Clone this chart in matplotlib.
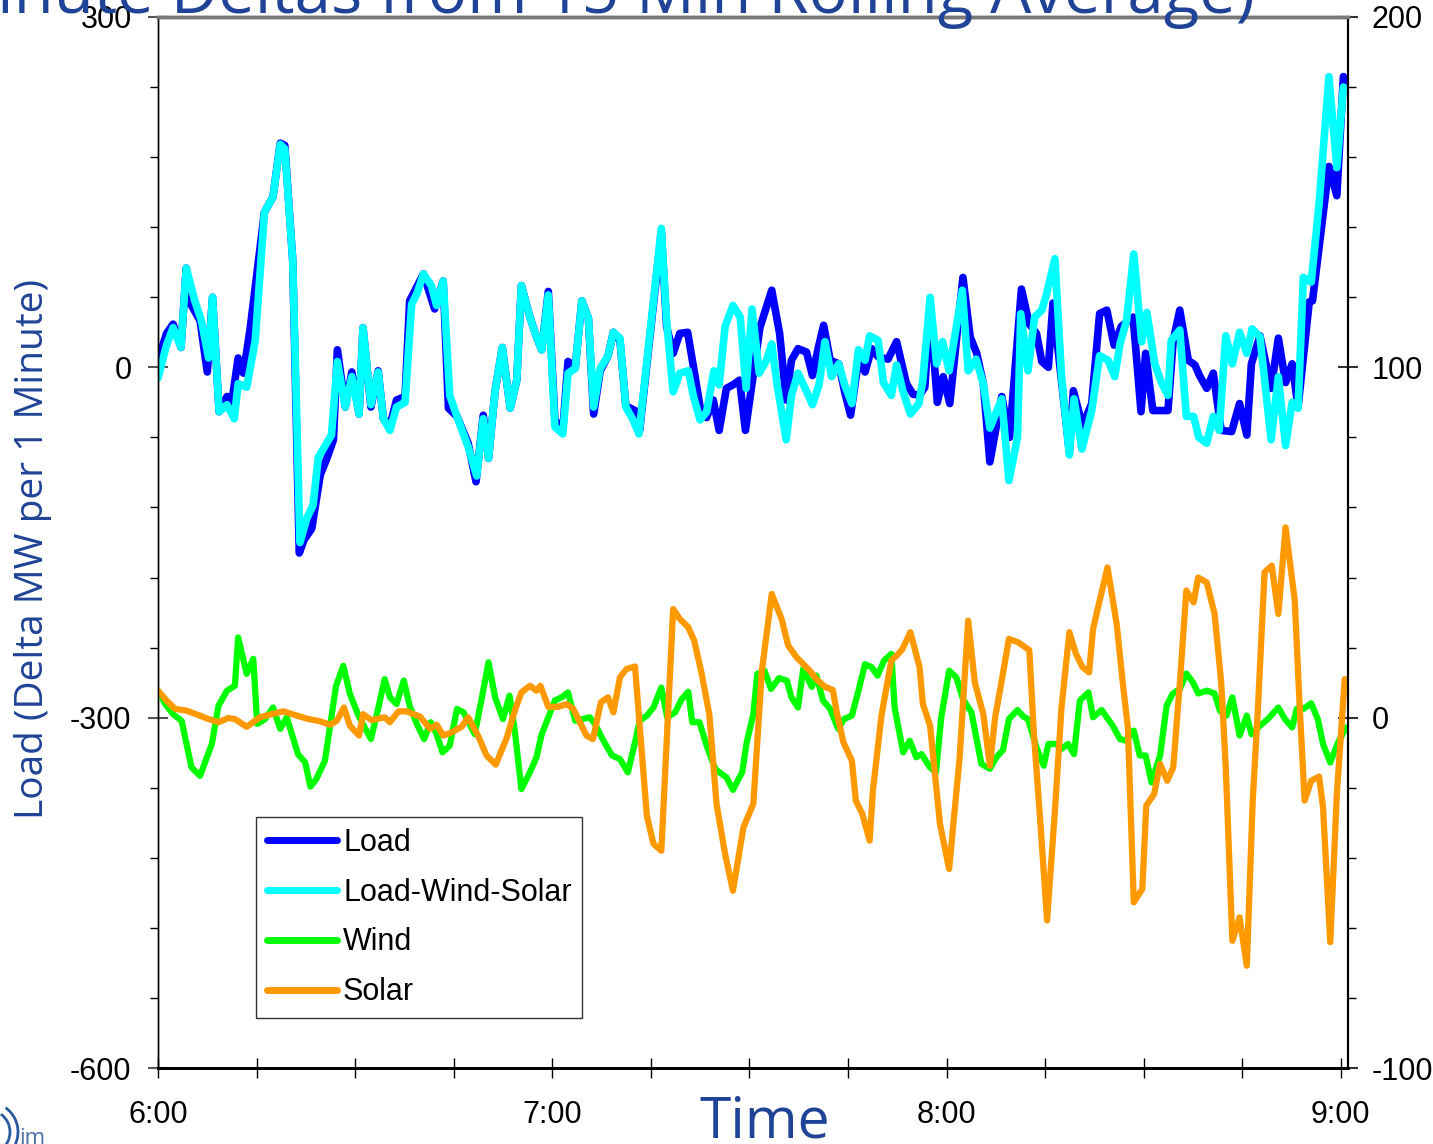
import matplotlib
matplotlib.use("Agg")
import matplotlib.pyplot as plt
from matplotlib.ticker import MultipleLocator, FuncFormatter
from matplotlib.patches import Arc

plt.rcParams['axes.unicode_minus'] = False
plt.rcParams['font.family'] = ['Liberation Sans', 'DejaVu Sans']

# minutes after 6:00 and values (left axis: MW, right axis: MW)
load_t = [0.0, 1.3, 2.3, 3.5, 4.3, 4.9, 6.4, 7.5, 8.3, 9.3, 10.5, 11.2, 12.2, 13.0, 14.0, 16.2, 17.5, 18.6,
          19.3, 20.5, 21.5, 22.2, 23.4, 24.7, 25.7, 26.7, 27.3, 28.5, 29.5, 30.6, 31.2, 32.4, 33.5, 34.3,
          35.3, 36.3, 37.6, 38.3, 40.4, 42.1, 43.4, 44.2, 45.5, 47.2, 48.4, 49.5, 50.3, 51.3, 52.4, 53.6,
          54.6, 55.3, 56.6, 57.6, 58.4, 59.4, 60.4, 61.6, 62.4, 63.5, 64.5, 65.5, 66.3, 67.3, 68.5, 69.3,
          70.3, 71.2, 72.6, 73.3, 76.6, 77.4, 78.4, 79.4, 80.6, 81.5, 82.5, 83.5, 84.5, 85.4, 86.5, 87.5,
          88.5, 89.4, 91.6, 93.4, 94.6, 95.6, 96.4, 97.4, 98.7, 99.6, 100.5, 101.3, 102.3, 103.6, 104.5,
          105.4, 106.6, 107.6, 108.6, 109.6, 111.1, 112.4, 113.9, 114.9, 115.9, 116.7, 117.5, 118.6, 119.5,
          120.5, 122.5, 123.6, 124.6, 125.6, 126.6, 128.4, 129.6, 131.4, 132.6, 133.7, 134.5, 135.5, 136.2,
          138.7, 139.3, 140.7, 142.1, 143.3, 144.4, 145.5, 146.6, 148.4, 149.6, 150.3, 151.4, 153.7, 154.5,
          155.5, 156.8, 157.8, 158.5, 159.6, 160.6, 161.8, 163.4, 164.6, 165.7, 166.4, 167.7, 169.4, 170.5,
          171.6, 172.6, 173.5, 175.2, 175.7, 178.2, 179.4, 180.4]
load_v = [6, 29, 37, 17, 85, 55, 40, -4, 60, -38, -25, -31, 8, -5, 32, 133, 146, 192,
          190, 92, -159, -148, -138, -92, -78, -62, 15, -34, -4, -40, 34, -34, -3, -44,
          -50, -28, -25, 57, 80, 50, 74, -35, -42, -65, -98, -41, -78, -20, 17, -35,
          -11, 70, 43, 26, 15, 65, -45, -54, 5, 0, 57, 42, -40, -3, 10, 30,
          23, -33, -37, -54, 116, 35, 12, 29, 30, 0, -34, -43, -28, -54, -18, -15,
          -11, -54, 34, 66, 29, -28, 6, 16, 13, -7, 17, 36, 6, 3, -21,
          -41, 6, -4, 16, 9, 7, 22, -14, -23, -24, -17, 52, -30, -8,
          -31, 77, 26, 12, -14, -81, -25, -60, 67, 37, 29, 5, 0, 55,
          -73, -20, -50, -31, 46, 49, 19, 35, 43, -38, 12, -37, -37, 23,
          49, 6, 2, -7, -18, -5, -54, -55, -31, -58, 3, 27, -18, 25,
          -13, 3, -34, 56, 57, 172, 147, 249]

lws_t = [0.0, 1.3, 2.3, 3.5, 4.3, 5.6, 6.6, 7.7, 8.3, 9.3, 10.5, 11.6, 12.2, 13.5, 14.8, 16.2, 17.5, 18.6,
         19.3, 20.5, 21.6, 22.6, 23.6, 24.4, 26.4, 27.3, 28.5, 29.5, 30.6, 31.2, 32.4, 33.5, 34.3, 35.3,
         36.3, 37.6, 38.6, 39.4, 40.4, 41.6, 42.4, 43.4, 44.4, 45.5, 47.2, 48.5, 49.5, 50.3, 51.3, 52.4,
         53.6, 54.6, 55.3, 56.6, 57.6, 58.4, 59.4, 60.4, 61.6, 62.4, 63.5, 64.5, 65.5, 66.3, 67.3, 68.5,
         69.3, 70.3, 71.2, 72.3, 73.2, 76.6, 77.4, 78.4, 79.4, 80.7, 81.5, 82.5, 83.5, 84.6, 85.4, 86.3,
         87.5, 88.6, 89.5, 90.4, 91.5, 92.6, 93.4, 94.2, 95.6, 96.4, 97.4, 98.4, 99.6, 100.6, 101.5, 102.5,
         103.6, 104.5, 105.6, 106.6, 107.6, 108.3, 109.6, 110.4, 111.6, 112.4, 113.4, 114.5, 115.8, 116.4,
         117.5, 118.5, 119.4, 120.4, 122.4, 123.3, 124.5, 125.6, 126.6, 128.4, 129.5, 130.8, 131.3, 132.4,
         133.4, 134.5, 135.2, 136.5, 137.5, 138.7, 139.4, 140.6, 142.1, 143.3, 144.6, 145.6, 146.4, 147.4,
         148.5, 149.7, 150.5, 151.7, 152.7, 153.7, 154.2, 155.5, 156.5, 157.6, 158.4, 159.6, 160.6, 161.5,
         162.5, 163.5, 164.6, 165.7, 166.5, 167.7, 169.4, 170.5, 171.6, 172.6, 173.5, 174.3, 175.5, 176.7,
         178.2, 179.4, 180.4]
lws_v = [-9, 19, 34, 17, 85, 57, 40, 8, 60, -38, -32, -44, -14, -17, 23, 133, 146, 191,
         187, 92, -150, -130, -118, -77, -58, 5, -34, -8, -40, 34, -32, -4, -44, -54,
         -34, -30, 54, 63, 80, 70, 53, 74, -24, -42, -68, -93, -44, -78, -20, 17,
         -35, -11, 70, 43, 26, 15, 62, -51, -57, -5, -1, 57, 42, -34, -1, 10,
         30, 25, -34, -45, -57, 119, 40, -21, -5, -3, -25, -45, -38, -3, -15, 35,
         53, 43, -18, 50, -5, 6, 20, -14, -62, -24, -5, -17, -32, -15, 22, -8,
         3, -15, -31, 15, 6, 27, 23, -13, -24, 2, -21, -40, -31, -11,
         60, 3, 22, -3, 66, -3, 7, -14, -52, -27, -97, -60, 46, -3,
         43, 49, 62, 93, -8, -75, -27, -70, -37, 10, 6, -8, 20, 40,
         97, 22, 47, 3, -13, -24, 23, 32, -42, -42, -60, -65, -42, -54,
         27, 3, 30, 12, 33, 26, -62, -8, -67, -30, -35, 77, 73, 140,
         249, 171, 240]

wind_t = [0.0, 1.1, 2.3, 3.6, 5.1, 6.4, 8.2, 9.2, 10.5, 11.7, 12.2, 13.5, 14.5, 15.1, 16.3, 17.5, 18.6, 19.6,
          21.3, 22.4, 23.2, 24.1, 25.4, 27.1, 28.2, 29.2, 30.5, 32.4, 33.5, 34.5, 35.3, 36.3, 37.4, 38.3,
          39.4, 40.5, 41.5, 42.4, 43.3, 44.4, 45.5, 46.5, 47.4, 48.2, 49.3, 50.3, 51.3, 52.5, 53.5, 54.3,
          55.3, 56.6, 57.6, 58.4, 59.2, 60.4, 61.4, 62.4, 63.5, 65.7, 66.5, 67.8, 69.1, 70.3, 71.5, 72.6,
          73.3, 74.4, 75.4, 76.6, 77.5, 78.7, 79.7, 80.7, 81.3, 82.4, 83.5, 84.8, 85.8, 86.5, 87.5, 88.9,
          89.6, 90.6, 91.2, 92.3, 93.3, 94.5, 95.7, 96.4, 97.4, 98.2, 99.5, 100.2, 101.2, 102.3, 103.5,
          104.4, 105.6, 106.6, 107.6, 108.6, 109.5, 110.5, 111.6, 112.1, 113.4, 114.4, 115.4, 116.2, 117.5,
          118.4, 119.2, 120.4, 121.5, 122.5, 123.8, 125.3, 126.6, 127.6, 128.6, 129.5, 130.8, 131.7, 132.4,
          133.7, 134.8, 135.5, 136.7, 137.5, 138.5, 139.4, 140.3, 141.6, 142.3, 143.6, 145.3, 146.4, 147.4,
          148.5, 149.4, 150.3, 151.2, 152.5, 153.5, 154.4, 155.5, 156.5, 157.5, 158.3, 159.6, 160.8, 161.6,
          162.6, 163.5, 164.6, 165.7, 166.4, 167.7, 168.9, 170.5, 171.5, 172.6, 173.3, 174.3, 175.5, 176.5,
          177.3, 178.4, 179.6, 180.8]
wind_v = [7.7, 3.9, 1.0, -0.9, -14.2, -16.6, -7.5, 3.4, 7.7, 9.1, 22.9, 12.5, 16.8, -1.8, -0.4, 2.9, -3.2, 0.1,
          -10.4, -12.8, -19.7, -17.5, -12.3, 9.1, 14.8, 6.8, 0.6, -6.1, 2.5, 11.0, 5.8, 3.9, 10.6, 3.4,
          -1.8, -6.1, -1.3, -4.7, -9.9, -8.0, 2.5, 1.5, -1.8, -4.7, 5.8, 15.8, 5.8, -0.4, 6.3, -3.7,
          -20.4, -15.6, -11.3, -4.7, -0.9, 4.9, 5.8, 7.2, -0.9, 0.1, -1.8, -6.6, -10.8, -11.8, -15.6, -7.0,
          -0.9, 0.6, 2.9, 8.6, 0.1, 1.5, 5.3, 7.4, -1.3, -1.3, -8.0, -14.6, -16.1, -17.0, -20.6, -15.6,
          -7.0, 1.0, 12.5, 13.4, 8.2, 11.3, 10.6, 5.8, 2.9, 13.9, 8.8, 12.0, 4.9, 2.5, -3.2,
          -0.4, 0.6, 7.7, 15.3, 14.4, 12.0, 16.3, 18.2, 2.9, -9.9, -6.6, -11.3, -10.4, -14.2,
          -15.6, 0.1, 13.4, 11.5, 5.3, 1.5, -13.2, -14.6, -11.3, -9.2, -0.4, 2.2, 0.3, -0.4,
          -8.5, -13.7, -7.5, -7.5, -8.9, -7.5, -10.4, 4.9, 7.2, 0.1, 2.2, -2.3, -6.1, -6.6,
          -3.7, -10.8, -10.8, -18.5, -10.8, 3.4, 6.8, 8.2, 12.6, 10.1, 6.9, 7.7, 6.9, 2.0,
          0.6, 5.8, -5.1, 0.6, -4.7, -2.3, -0.4, 2.9, -0.4, -2.8, 2.5, 2.5, 4.1, -0.4,
          -7.5, -12.8, -7.0, -2.8]

solar_t = [0.0, 1.3, 2.6, 4.4, 7.7, 9.2, 10.7, 11.7, 13.5, 15.5, 17.3, 19.1, 21.1, 22.9, 24.4, 26.2, 27.2, 28.3,
           29.2, 30.6, 31.2, 32.5, 34.5, 35.3, 36.6, 37.8, 39.9, 41.4, 42.4, 43.4, 44.7, 46.2, 47.2, 48.7,
           50.0, 51.4, 53.1, 54.3, 55.3, 56.6, 57.6, 58.2, 59.4, 60.9, 62.2, 63.2, 65.2, 66.2, 67.4, 68.5,
           69.3, 70.3, 71.3, 72.6, 73.2, 74.4, 75.4, 76.6, 78.4, 79.4, 80.7, 81.6, 82.7, 83.9, 85.0, 86.3,
           87.5, 89.1, 90.6, 91.9, 93.4, 94.9, 95.9, 97.2, 99.2, 100.2, 101.5, 102.7, 103.3, 104.3, 105.6,
           106.2, 107.2, 108.3, 108.8, 110.1, 111.6, 112.4, 113.3, 114.5, 115.9, 116.4, 117.5, 119.0, 120.4,
           122.0, 123.3, 124.3, 125.6, 126.6, 127.4, 128.4, 129.5, 130.9, 132.6, 133.3, 134.3, 135.3, 136.5,
           137.5, 138.7, 139.7, 140.7, 141.7, 142.3, 143.3, 144.5, 145.9, 146.9, 147.6, 148.5, 149.8, 150.4,
           151.6, 152.5, 153.6, 154.5, 155.5, 156.5, 157.6, 158.3, 159.6, 160.8, 161.8, 162.5, 163.5, 164.6,
           165.7, 166.6, 167.4, 168.4, 169.5, 170.5, 171.6, 173.0, 173.7, 174.5, 175.5, 176.7, 177.3, 178.4,
           179.4, 180.6]
solar_v = [7.7, 4.9, 2.5, 2.0, -0.4, -1.3, -0.1, -0.4, -2.6, 0.1, 1.0, 1.8, 0.6, -0.4, -0.9, -2.0, -0.9, 2.9,
           -2.3, -5.1, 1.0, -0.7, 0.1, -1.3, 1.8, 1.8, 0.3, -3.2, -2.0, -5.1, -4.2, -2.6, 0.1, -5.1,
           -10.8, -13.4, -5.6, 2.0, 7.2, 9.1, 7.7, 9.1, 3.1, 3.1, 3.9, 2.5, -5.1, -6.1, 4.4, 5.8,
           1.5, 11.5, 13.9, 14.6, 0.1, -28.0, -36.0, -38.0, 31.0, 28.2, 25.8, 22.0, 12.9, 1.0, -24.6, -38.9,
           -49.4, -31.3, -24.6, 13.4, 35.3, 28.2, 20.6, 17.2, 13.4, 11.0, 8.8, 7.9, 1.5, -7.0, -12.3,
           -23.7, -27.5, -35.1, -20.8, 0.6, 16.3, 17.7, 19.6, 24.4, 14.4, 3.9, -2.3, -30.3, -43.2,
           -11.3, 27.7, 10.1, 1.0, -13.7, 0.1, 10.6, 22.5, 21.5, 19.3, -4.7, -30.3, -57.9, -26.5,
           2.9, 24.4, 18.2, 14.4, 12.9, 25.3, 33.4, 42.9, 26.7, 8.6, -2.8, -52.7, -48.9, -25.1,
           -21.8, -13.2, -18.0, -14.2, 9.6, 36.3, 32.9, 40.0, 38.6, 29.6, 10.1, -14.2, -63.7, -57.0,
           -70.8, -23.7, 2.9, 41.5, 43.4, 29.6, 54.3, 33.4, 4.9, -23.7, -18.0, -16.8, -25.6, -64.1,
           -21.8, 11.0]

series_names = ["Load", "Load-Wind-Solar", "Wind", "Solar"]
series_colors = ["#0000FF", "#00FFFF", "#00FF00", "#FF9900"]
title_text = "Load Variability (1-Minute Deltas from 15 Min Rolling Average)"
ylabel_text = "Load (Delta MW per 1 Minute)"
label_blue = "#1F4396"

W, H = 1433, 1144
fig = plt.figure(figsize=(W / 100, H / 100), dpi=100)
ax = fig.add_axes([158 / W, 1 - 1068 / H, (1348 - 158) / W, (1068 - 17) / H])
ax2 = ax.twinx()

line_kw = dict(solid_joinstyle='round', solid_capstyle='round')
ax.plot(load_t, load_v, color=series_colors[0], lw=5.5, label=series_names[0], **line_kw)
ax.plot(lws_t, lws_v, color=series_colors[1], lw=5.5, label=series_names[1], **line_kw)
ax2.plot(wind_t, wind_v, color=series_colors[2], lw=4.5, label=series_names[2], **line_kw)
ax2.plot(solar_t, solar_v, color=series_colors[3], lw=4.5, label=series_names[3], **line_kw)

ax.set_xlim(0, 181.1)
ax.set_ylim(-600, 300)
ax2.set_ylim(-100, 200)

# x ticks: every 15 min, labels on the hour
ax.xaxis.set_major_locator(MultipleLocator(60))
ax.xaxis.set_minor_locator(MultipleLocator(15))
ax.xaxis.set_major_formatter(FuncFormatter(lambda m, p: f"{6 + int(m // 60)}:{int(m % 60):02d}"))
ax.tick_params(axis='x', which='both', direction='inout', length=14, width=1, color='black')
ax.tick_params(axis='x', which='major', labelsize=22, pad=16)

ax.yaxis.set_major_locator(MultipleLocator(300))
ax.yaxis.set_minor_locator(MultipleLocator(60))
ax.tick_params(axis='y', which='major', direction='inout', length=14, width=1.5, color='#555555',
               labelsize=22, pad=12)
ax.tick_params(axis='y', which='minor', direction='out', length=6, width=1, color='black')

ax2.yaxis.set_major_locator(MultipleLocator(100))
ax2.yaxis.set_minor_locator(MultipleLocator(20))
ax2.tick_params(axis='y', which='major', direction='inout', length=14, width=1.5, color='#333333',
                labelsize=22, pad=10)
ax2.tick_params(axis='y', which='minor', direction='out', length=6, width=1, color='black')

for a in (ax, ax2):
    a.spines['top'].set_color('#777777')
    a.spines['top'].set_linewidth(2.5)
    a.spines['bottom'].set_linewidth(2)
    a.spines['left'].set_linewidth(1)
    a.spines['right'].set_linewidth(1.5)

# axis titles and the cropped slide title, placed in figure pixels
fig.text(33 / W, 1 - 549 / H, ylabel_text, rotation=90, ha='center', va='center',
         fontsize=28, color=label_blue, family=['Open Sans', 'DejaVu Sans'])
fig.text(765 / W, 1 - 1138 / H, "Time", ha='center', va='baseline',
         fontsize=41, color=label_blue, family=['Open Sans', 'DejaVu Sans'])
fig.text(1255 / W, 1 - 13 / H, title_text, ha='right', va='baseline', fontsize=47,
         color=label_blue, family=['Open Sans', 'DejaVu Sans'])

# fragment of the logo in the lower-left corner
fig.text(19 / W, 1 - 1144 / H, "im", ha='left', va='baseline', fontsize=16, color='#4A6FA5',
         family=['Open Sans', 'DejaVu Sans'])
for r in (22, 30):
    fig.add_artist(Arc((-12 / W, 1 - 1132 / H), 2 * r / W, 2 * r / H, theta1=-60, theta2=60,
                       transform=fig.transFigure, color='#2B5AA0', lw=2))

h1, l1 = ax.get_legend_handles_labels()
h2, l2 = ax2.get_legend_handles_labels()
leg = ax2.legend(h1 + h2, l1 + l2, loc='upper left', bbox_to_anchor=(256 / W, 1 - 817 / H),
                 bbox_transform=fig.transFigure, fontsize=22, frameon=True, fancybox=False,
                 handlelength=2.3, handletextpad=0.2, labelspacing=0.65, borderpad=0.35,
                 borderaxespad=0)
leg.get_frame().set_edgecolor('black')
leg.get_frame().set_linewidth(1)
for ln in leg.get_lines():
    ln.set_linewidth(5)

fig.savefig("out.png", dpi=100)
